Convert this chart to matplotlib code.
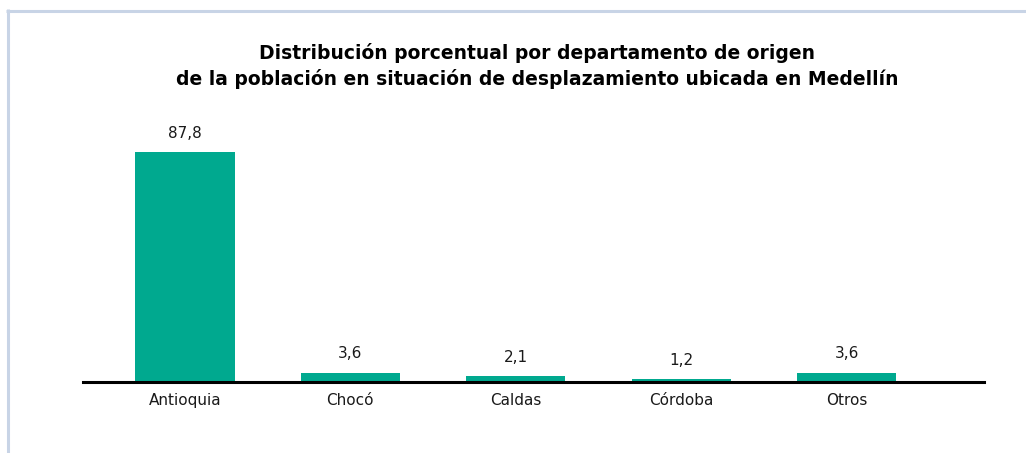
import matplotlib
matplotlib.use("Agg")
import matplotlib.pyplot as plt
from matplotlib.lines import Line2D

categories = ["Antioquia", "Chocó", "Caldas", "Córdoba", "Otros"]
values = [87.8, 3.6, 2.1, 1.2, 3.6]
value_labels = ["87,8", "3,6", "2,1", "1,2", "3,6"]
title_lines = ["Distribución porcentual por departamento de origen",
               "de la población en situación de desplazamiento ubicada en Medellín"]

W, H = 1026, 453
fig = plt.figure(figsize=(W / 100, H / 100), dpi=100)
fig.patch.set_facecolor("white")

label_font = "DejaVu Sans"
ax = fig.add_axes([83 / W, 71 / H, (984 - 83) / W, 262 / H])
x = list(range(len(categories)))
ax.bar(x, values, width=0.6, color="#00a98f", zorder=2)
ax.set_ylim(0, 100)
ax.set_xlim(-0.616, 4.83)
for xi, v, lab in zip(x, values, value_labels):
    ax.annotate(lab, (xi, v), xytext=(0, 8), textcoords="offset points",
                ha="center", va="bottom", fontsize=11, family=label_font,
                color="#1a1a1a")
ax.set_xticks(x)
ax.set_xticklabels(categories, fontsize=11, family=label_font, color="#1a1a1a")
ax.tick_params(axis="x", length=0, pad=8)
ax.set_yticks([])
for s in ["top", "right", "left"]:
    ax.spines[s].set_visible(False)
ax.spines["bottom"].set_linewidth(2.2)
ax.spines["bottom"].set_color("black")
ax.spines["bottom"].set_zorder(3)

# title: two lines, fitted to the reference width of line 2
cx = 537 / W
t1 = fig.text(cx, 1 - 59 / H, title_lines[0], ha="center", va="baseline",
              fontsize=13, fontweight="bold", family="DejaVu Sans", color="black")
t2 = fig.text(cx, 1 - 85 / H, title_lines[1], ha="center", va="baseline",
              fontsize=13, fontweight="bold", family="DejaVu Sans", color="black")
fig.canvas.draw()
r = fig.canvas.get_renderer()
w2 = t2.get_window_extent(r).width
size = 13 * 715 / w2
t1.set_fontsize(size)
t2.set_fontsize(size)

bc = "#c8d4e6"
fig.add_artist(Line2D([7.5 / W, 7.5 / W], [0, 1 - 9 / H], transform=fig.transFigure,
                      color=bc, linewidth=2.2, solid_capstyle="butt"))
fig.add_artist(Line2D([6 / W, 1], [1 - 10.5 / H, 1 - 10.5 / H], transform=fig.transFigure,
                      color=bc, linewidth=2.2, solid_capstyle="butt"))

fig.savefig("out.png", dpi=100)
